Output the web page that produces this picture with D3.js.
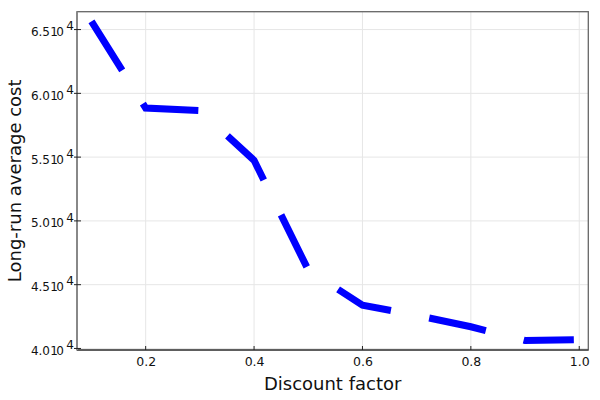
<!DOCTYPE html>
<html>
<head>
<meta charset="utf-8">
<script src="https://cdn.jsdelivr.net/npm/d3@7"></script>
<style>
  html, body { margin: 0; padding: 0; background: #fff; }
  svg { display: block; font-family: "DejaVu Sans", sans-serif; }
</style>
</head>
<body>
<svg id="chart" width="600" height="400"></svg>
<script>
// Data
const discountFactors = [0.1, 0.2, 0.3, 0.4, 0.5, 0.6, 0.7, 0.8, 0.9, 0.99];
const averageCosts = [65650, 58850, 58650, 54750, 46150, 43400, 42590, 41700, 40630, 40690];
const xTickValues = [0.2, 0.4, 0.6, 0.8, 1.0];
const xTickLabels = ["0.2", "0.4", "0.6", "0.8", "1.0"];
const yTickValues = [40000, 45000, 50000, 55000, 60000, 65000];
const yTickMantissas = ["4.0", "4.5", "5.0", "5.5", "6.0", "6.5"];
const yTickExponent = "4";
const xLabel = "Discount factor";
const yLabel = "Long-run average cost";

const svg = d3.select("#chart");
const pLeft = 77, pRight = 588.3, pTop = 11.7, pBottom = 350;

function padded(ext) {
  const p = (ext[1] - ext[0]) * 0.03;
  return [ext[0] - p, ext[1] + p];
}
const x = d3.scaleLinear().domain(padded(d3.extent(discountFactors))).range([pLeft, pRight]);
const y = d3.scaleLinear().domain(padded(d3.extent(averageCosts))).range([pBottom, pTop]);

// grid
const grid = svg.append("g").attr("stroke", "#e6e6e6").attr("stroke-width", 1);
grid.selectAll("line.gx").data(xTickValues).join("line")
  .attr("x1", d => x(d)).attr("x2", d => x(d)).attr("y1", pTop).attr("y2", pBottom);
grid.selectAll("line.gy").data(yTickValues).join("line")
  .attr("y1", d => y(d)).attr("y2", d => y(d)).attr("x1", pLeft).attr("x2", pRight);

// frame
svg.append("rect").attr("x", pLeft).attr("y", pTop).attr("width", pRight - pLeft).attr("height", pBottom - pTop)
  .attr("fill", "none").attr("stroke", "#666").attr("stroke-width", 1.3);
svg.append("line").attr("x1", pLeft).attr("x2", pRight).attr("y1", pBottom).attr("y2", pBottom)
  .attr("stroke", "#222").attr("stroke-width", 1.2);
svg.append("line").attr("x1", pLeft).attr("x2", pLeft).attr("y1", pTop).attr("y2", pBottom)
  .attr("stroke", "#888").attr("stroke-width", 2);

// x axis ticks & labels
const xAxis = d3.axisBottom(x).tickValues(xTickValues).tickSize(0).tickFormat((d, i) => xTickLabels[i]);
const gx = svg.append("g").attr("transform", `translate(0,${pBottom})`).call(xAxis);
gx.select(".domain").remove();
gx.selectAll("text").attr("font-size", 12.5).attr("fill", "#111").attr("font-family", "DejaVu Sans").attr("dy", "1.0em").attr("y", 3);
svg.append("g").selectAll("line").data(xTickValues).join("line")
  .attr("x1", d => x(d)).attr("x2", d => x(d)).attr("y1", pBottom).attr("y2", pBottom - 4)
  .attr("stroke", "#222").attr("stroke-width", 1);

// y axis ticks & labels
svg.append("g").selectAll("line").data(yTickValues).join("line")
  .attr("y1", d => y(d)).attr("y2", d => y(d)).attr("x1", pLeft - 3).attr("x2", pLeft + 4)
  .attr("stroke", "#222").attr("stroke-width", 1);
const yl = svg.append("g").selectAll("text").data(yTickValues).join("text")
  .attr("x", 74).attr("y", d => y(d) + 6.4).attr("text-anchor", "end")
  .attr("font-size", 12).attr("fill", "#111");
yl.append("tspan").text((d, i) => yTickMantissas[i]);
yl.append("tspan").attr("dx", 0.3).attr("letter-spacing", -1.6).text("10");
yl.append("tspan").attr("dx", 4).attr("dy", -5.7).text(yTickExponent);

// line
const line = d3.line().x(d => x(d[0])).y(d => y(d[1]));
svg.append("path")
  .datum(discountFactors.map((d, i) => [d, averageCosts[i]]))
  .attr("d", line)
  .attr("fill", "none").attr("stroke", "#0000ff").attr("stroke-width", 7)
  .attr("stroke-dasharray", "58,39").attr("stroke-linejoin", "miter").attr("stroke-linecap", "butt");

// axis labels
svg.append("text").attr("x", (pLeft + pRight) / 2).attr("y", 390).attr("text-anchor", "middle")
  .attr("font-size", 18).attr("fill", "#111").text(xLabel);
svg.append("text").attr("transform", `translate(20.5,${(pTop + pBottom) / 2}) rotate(-90)`)
  .attr("text-anchor", "middle").attr("font-size", 18).attr("fill", "#111").text(yLabel);
</script>
</body>
</html>
